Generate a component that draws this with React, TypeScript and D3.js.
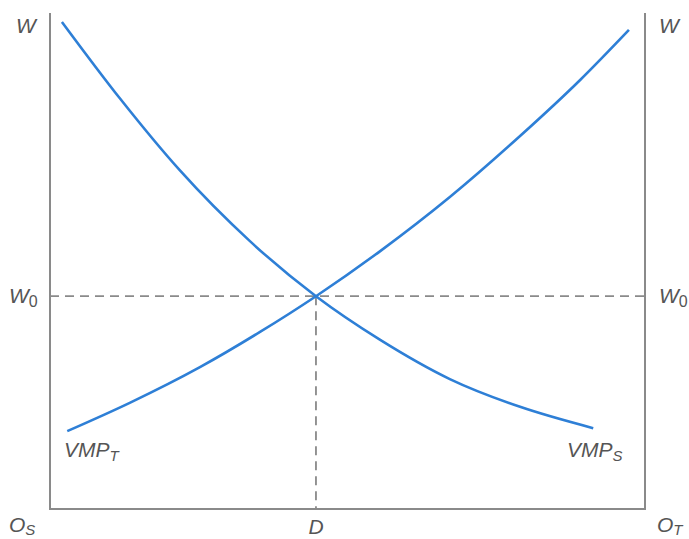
import React from "react";
import * as d3 from "d3";

const vmpSQ = [2.0, 11.8, 21.8, 33.6, 44.7, 55.5, 67.2, 79.0, 91.3];
const vmpSW = [98.2, 82.7, 68.3, 54.0, 42.9, 34.1, 26.2, 20.6, 16.3];
const vmpTQ = [2.9, 13.4, 25.2, 35.3, 44.7, 55.5, 67.2, 79.0, 89.1, 97.3];
const vmpTW = [15.7, 21.4, 28.6, 35.7, 42.9, 52.0, 62.9, 75.2, 86.5, 96.6];
const eqQ = 44.7;
const eqW = 42.9;

const W = 689;
const H = 539;
const left = 50;
const right = 645;
const top = 13;
const bottom = 509;

export default function App() {
  const x = d3.scaleLinear().domain([0, 100]).range([left, right]);
  const y = d3.scaleLinear().domain([0, 100]).range([bottom, top]);
  const line = d3
    .line<[number, number]>()
    .x((d) => x(d[0]))
    .y((d) => y(d[1]))
    .curve(d3.curveMonotoneX);
  const sPts = vmpSQ.map((q, i) => [q, vmpSW[i]] as [number, number]);
  const tPts = vmpTQ.map((q, i) => [q, vmpTW[i]] as [number, number]);
  const blue = "#2e7fd6";
  const axisCol = "#8a8a8a";
  const txt = "#555";
  const font = "'Liberation Sans', Arial, sans-serif";
  const ts = { fontFamily: font, fontStyle: "italic" as const, fill: txt, fontSize: 21 };
  const sub = { fontSize: 15 };
  const sub0 = { fontSize: 16, fontStyle: "normal" as const };
  return (
    <svg
      width={W}
      height={H}
      style={{ position: "absolute", left: 0, top: 0, background: "#fff" }}
    >
      <line x1={x(0)} y1={y(eqW)} x2={x(100)} y2={y(eqW)} stroke={axisCol} strokeWidth={1.8} strokeDasharray="9,6" />
      <line x1={x(eqQ)} y1={y(eqW)} x2={x(eqQ)} y2={y(0)} stroke={axisCol} strokeWidth={1.8} strokeDasharray="9,6" />
      <path d={`M${x(0)},${top}V${bottom}H${x(100)}V${top}`} fill="none" stroke={axisCol} strokeWidth={2} />
      <path d={line(sPts) || ""} fill="none" stroke={blue} strokeWidth={2.6} />
      <path d={line(tPts) || ""} fill="none" stroke={blue} strokeWidth={2.6} />
      <text x={16} y={33} {...ts}>W</text>
      <text x={659} y={33} {...ts}>W</text>
      <text x={9} y={303} {...ts}>W<tspan {...sub0} dy={4}>0</tspan></text>
      <text x={659} y={303} {...ts}>W<tspan {...sub0} dy={4}>0</tspan></text>
      <text x={64} y={457} {...ts}>VMP<tspan {...sub} dy={4}>T</tspan></text>
      <text x={567} y={457} {...ts}>VMP<tspan {...sub} dy={4}>S</tspan></text>
      <text x={9} y={532} {...ts}>O<tspan {...sub} dy={3}>S</tspan></text>
      <text x={x(eqQ)} y={534} textAnchor="middle" {...ts}>D</text>
      <text x={657} y={532} {...ts}>O<tspan {...sub} dy={3}>T</tspan></text>
    </svg>
  );
}
